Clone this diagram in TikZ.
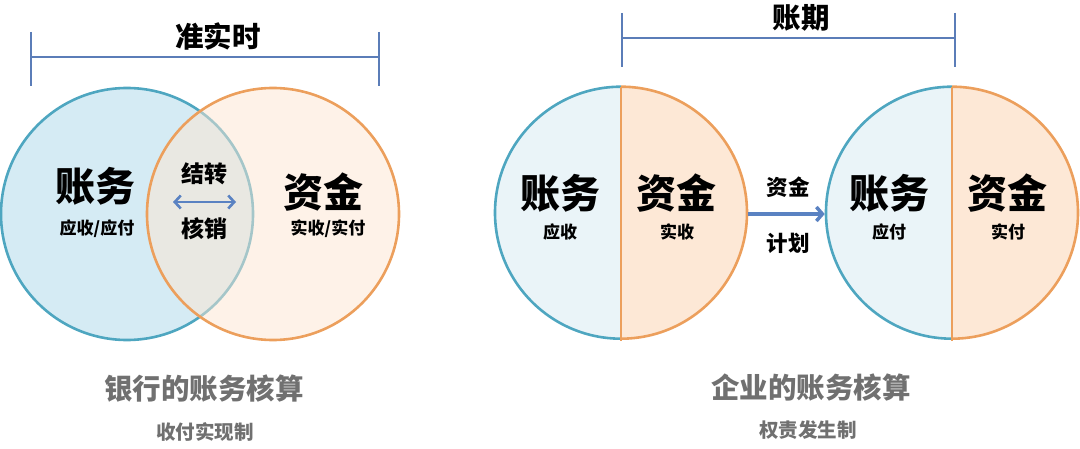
\documentclass[tikz,border=0pt]{standalone}
\usepackage{fontspec}
\usetikzlibrary{arrows.meta}
\newfontfamily\cjk{Noto Sans CJK SC}
\definecolor{barblue}{HTML}{5B7DB8}
\definecolor{arrblue}{HTML}{5A82C2}
\definecolor{cblue}{HTML}{4EA6C0}
\definecolor{vbluefill}{HTML}{D5EBF4}
\definecolor{corange}{HTML}{EC9F5C}
\definecolor{vorangefill}{HTML}{FDE6D2}
\definecolor{pbluefill}{HTML}{EAF4F8}
\definecolor{porangefill}{HTML}{FDE8D6}
\definecolor{graytxt}{HTML}{707070}
\begin{document}
\begin{tikzpicture}[x=1pt,y=-1pt,
  txt/.style={inner sep=0pt, text=black},
  big/.style={txt, font=\cjk\bfseries\fontsize{40}{40}\selectfont},
  mid/.style={txt, font=\cjk\bfseries\fontsize{23}{23}\selectfont},
  small/.style={txt, font=\cjk\bfseries\fontsize{17}{17}\selectfont},
  ttl/.style={txt, font=\cjk\bfseries\fontsize{28.5}{28.5}\selectfont},
  captl/.style={inner sep=0pt, text=graytxt, font=\cjk\bfseries\fontsize{28.5}{28.5}\selectfont},
  caps/.style={inner sep=0pt, text=graytxt, font=\cjk\bfseries\fontsize{19.5}{19.5}\selectfont},
  bar/.style={draw=barblue, line width=2.6pt},
  ring/.style={circle, minimum size=252pt, inner sep=0pt, line width=2.6pt}
]
\useasboundingbox (0,0) rectangle (1080,449);

% ---------- left: bracket ----------
\coordinate (la) at (31,32);
\coordinate (lb) at (31,86);
\coordinate (lc) at (379,32);
\coordinate (ld) at (379,86);
\coordinate (lm1) at (31,57);
\coordinate (lm2) at (379,57);
\draw[bar] (la) -- (lb);
\draw[bar] (lc) -- (ld);
\draw[bar] (lm1) -- (lm2);
\node[ttl] (t1) at (218,36) {准实时};

% ---------- left: venn ----------
\node[ring, draw=cblue, fill=vbluefill] (acc) at (127,214) {};
\node[ring, draw=corange, fill=vorangefill, fill opacity=0.5, draw opacity=1] (fund) at (273,214) {};
\node[big] (acct1) at (95,186) {账务};
\node[small] (acct1s) at (97,229) {应收/应付};
\node[mid] (jz) at (204,174) {结转};
\node[mid] (hx) at (204,229) {核销};
\coordinate (dl) at (173,202);
\coordinate (dr) at (236,202);
\draw[draw=arrblue, line width=2.6pt, {Straight Barb[length=6pt,width=13pt]}-{Straight Barb[length=6pt,width=13pt]}] (dl) -- (dr);
\node[big] (fund1) at (323,192) {资金};
\node[small] (fund1s) at (328,229) {实收/实付};

\node[captl] (cap1) at (204,389) {银行的账务核算};
\node[caps] (cap1s) at (205,432) {收付实现制};

% ---------- right: bracket ----------
\coordinate (ra) at (622,13);
\coordinate (rb) at (622,67);
\coordinate (rc) at (955,13);
\coordinate (rd) at (955,67);
\coordinate (rm1) at (622,38);
\coordinate (rm2) at (955,38);
\draw[bar] (ra) -- (rb);
\draw[bar] (rc) -- (rd);
\draw[bar] (rm1) -- (rm2);
\node[ttl] (t2) at (801,18) {账期};

% ---------- right: pies ----------
\node[ring] (pie1) at (621,214) {};
\node[ring] (pie2) at (952,214) {};
\foreach \p in {pie1,pie2}{
  \fill[pbluefill] (\p.north) arc[start angle=90, end angle=270, radius=126pt] -- cycle;
  \fill[porangefill] (\p.north) arc[start angle=90, end angle=-90, radius=126pt] -- cycle;
  \draw[cblue, line width=2.6pt] (\p.north) arc[start angle=90, end angle=270, radius=126pt];
  \draw[corange, line width=2.6pt] (\p.north) arc[start angle=90, end angle=-90, radius=126pt];
  \draw[corange, line width=2.6pt] (\p.north) -- (\p.south);
}
\node[big] (acct2) at (560,193) {账务};
\node[small] (acct2s) at (560,232) {应收};
\node[big] (fund2) at (676,193) {资金};
\node[small] (fund2s) at (677,232) {实收};
\node[big] (acct3) at (889,193) {账务};
\node[small] (acct3s) at (889,232) {应付};
\node[big] (fund3) at (1007,193) {资金};
\node[small] (fund3s) at (1008,232) {实付};

\node[txt, font=\cjk\bfseries\fontsize{21.5}{21.5}\selectfont] (zj) at (788,187) {资金};
\node[txt, font=\cjk\bfseries\fontsize{21.5}{21.5}\selectfont] (jh) at (788,243) {计划};
\draw[draw=arrblue, line width=3.5pt, -{Straight Barb[length=6pt,width=14pt]}] (pie1.east) -- (pie2.west);

\node[captl] (cap2) at (811,388) {企业的账务核算};
\node[caps] (cap2s) at (808,430) {权责发生制};
\end{tikzpicture}
\end{document}
